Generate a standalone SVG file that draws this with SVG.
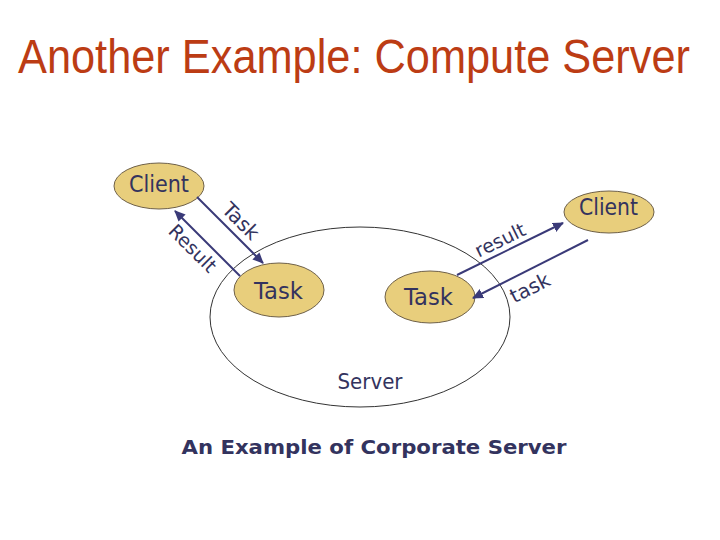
<svg xmlns="http://www.w3.org/2000/svg" width="720" height="540" viewBox="0 0 720 540">
<style>
.node{fill:#E8CE7C;stroke:#6E6048;stroke-width:1}
.lbl{font-family:"DejaVu Sans",Verdana,sans-serif;fill:#33335E}
.conn{stroke:#3A3A78;stroke-width:2;fill:none;marker-end:url(#ah)}
</style>
<defs>
<marker id="ah" markerUnits="userSpaceOnUse" markerWidth="12" markerHeight="10" refX="10" refY="5" orient="auto">
<path d="M0,0 L11,5 L0,10 z" fill="#3A3A78"/>
</marker>
</defs>
<rect width="720" height="540" fill="#fff"/>
<text transform="translate(18,73) scale(1,1.12)" x="0" y="0" font-family="'Liberation Sans',Arial,sans-serif" font-size="43" fill="#BC3C14" textLength="672" lengthAdjust="spacingAndGlyphs">Another Example: Compute Server</text>
<g id="server">
<ellipse cx="360" cy="317" rx="150" ry="90" fill="none" stroke="#333" stroke-width="1"/>
<text class="lbl" x="370" y="389" font-size="22" text-anchor="middle" textLength="65" lengthAdjust="spacingAndGlyphs">Server</text>
</g>
<g id="client1">
<ellipse class="node" cx="159" cy="186" rx="45" ry="23"/>
<text class="lbl" x="159" y="192" font-size="23" text-anchor="middle" textLength="60" lengthAdjust="spacingAndGlyphs">Client</text>
</g>
<g id="client2">
<ellipse class="node" cx="609" cy="212" rx="45" ry="21"/>
<text class="lbl" x="608.5" y="215" font-size="23" text-anchor="middle" textLength="59" lengthAdjust="spacingAndGlyphs">Client</text>
</g>
<g id="task1">
<ellipse class="node" cx="279" cy="290" rx="45" ry="27"/>
<text class="lbl" x="278.5" y="299" font-size="23" text-anchor="middle" textLength="49" lengthAdjust="spacingAndGlyphs">Task</text>
</g>
<g id="task2">
<ellipse class="node" cx="430" cy="297" rx="45" ry="26"/>
<text class="lbl" x="428.5" y="305" font-size="23" text-anchor="middle" textLength="49" lengthAdjust="spacingAndGlyphs">Task</text>
</g>
<g id="connectors">
<line class="conn" x1="197" y1="197" x2="263" y2="263"/>
<line class="conn" x1="240" y1="276" x2="175" y2="211"/>
<line class="conn" x1="457" y1="275" x2="563" y2="223"/>
<line class="conn" x1="588" y1="240" x2="473" y2="298"/>
<text class="lbl" font-size="20" text-anchor="middle" transform="translate(236,226) rotate(45)">Task</text>
<text class="lbl" font-size="19" text-anchor="middle" transform="translate(188,253) rotate(45)">Result</text>
<text class="lbl" font-size="19" text-anchor="middle" transform="translate(503,246) rotate(-26)">result</text>
<text class="lbl" font-size="20" text-anchor="middle" transform="translate(533,294) rotate(-27)">task</text>
</g>
<text x="374" y="454" font-family="'DejaVu Sans',Verdana,sans-serif" font-weight="bold" font-size="19" fill="#33335E" text-anchor="middle" textLength="385" lengthAdjust="spacingAndGlyphs">An Example of Corporate Server</text>
</svg>
